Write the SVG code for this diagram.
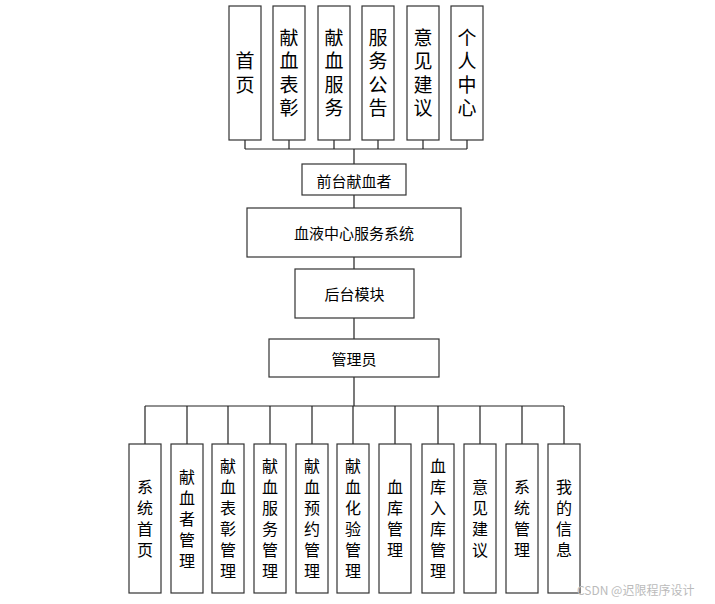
<svg xmlns="http://www.w3.org/2000/svg" width="715" height="604" viewBox="0 0 715 604">
<style>
.box{fill:#fff;stroke:#333;stroke-width:1.2}
.ln{fill:none;stroke:#222;stroke-width:1.2}
.t{font-family:"Noto Sans CJK SC","Microsoft YaHei",sans-serif;fill:#000;text-anchor:middle;dominant-baseline:central}
.v{font-family:"Noto Sans CJK SC","Microsoft YaHei",sans-serif;fill:#000;text-anchor:middle;writing-mode:vertical-rl;glyph-orientation-vertical:0}
.vt{font-size:19px;letter-spacing:4.5px}
.vb{font-size:16px;letter-spacing:5px}
.h{font-size:15px}
.wm{font-family:"Noto Sans CJK SC",sans-serif;font-size:12px;fill:#bbb}
</style>
<rect width="715" height="604" fill="#fff"/>
<g id="connectors">
<path class="ln" d="M245,140V149M289,140V149M334,140V149M378,140V149M423,140V149M467,140V149M245,149H467M354,149V164"/>
<path class="ln" d="M354,195V208M354,257V269M354,318V339M354,377V406"/>
<path class="ln" d="M145,406H564M145,406V444M187,406V444M228,406V444M270,406V444M312,406V444M353,406V444M395,406V444M438,406V444M480,406V444M522,406V444M564,406V444"/>
</g>
<g id="n_shouye"><rect class="box" x="229" y="6" width="32" height="134"/><text class="v vt" x="245" y="75">首页</text></g>
<g id="n_xxbz"><rect class="box" x="273" y="6" width="32" height="134"/><text class="v vt" x="289" y="75">献血表彰</text></g>
<g id="n_xxfw"><rect class="box" x="318" y="6" width="32" height="134"/><text class="v vt" x="334" y="75">献血服务</text></g>
<g id="n_fwgg"><rect class="box" x="362" y="6" width="32" height="134"/><text class="v vt" x="378" y="75">服务公告</text></g>
<g id="n_yjjy"><rect class="box" x="407" y="6" width="32" height="134"/><text class="v vt" x="423" y="75">意见建议</text></g>
<g id="n_grzx"><rect class="box" x="451" y="6" width="32" height="134"/><text class="v vt" x="467" y="75">个人中心</text></g>
<g id="n_qtxxz"><rect class="box" x="302" y="164" width="104" height="31"/><text class="t h" x="354" y="180">前台献血者</text></g>
<g id="n_xtzx"><rect class="box" x="247" y="208" width="214" height="49"/><text class="t h" x="354" y="232.5">血液中心服务系统</text></g>
<g id="n_htmk"><rect class="box" x="295" y="269" width="119" height="49"/><text class="t h" x="354.5" y="293.5">后台模块</text></g>
<g id="n_gly"><rect class="box" x="269" y="339" width="170" height="38"/><text class="t h" x="354" y="358">管理员</text></g>
<g id="b_xtsy"><rect class="box" x="129" y="444" width="32" height="149"/><text class="v vb" x="145" y="521">系统首页</text></g>
<g id="b_xxzgl"><rect class="box" x="171" y="444" width="32" height="149"/><text class="v vb" x="187" y="521">献血者管理</text></g>
<g id="b_xxbzgl"><rect class="box" x="212" y="444" width="32" height="149"/><text class="v vb" x="228" y="521">献血表彰管理</text></g>
<g id="b_xxfwgl"><rect class="box" x="254" y="444" width="32" height="149"/><text class="v vb" x="270" y="521">献血服务管理</text></g>
<g id="b_xxyygl"><rect class="box" x="296" y="444" width="32" height="149"/><text class="v vb" x="312" y="521">献血预约管理</text></g>
<g id="b_xxhygl"><rect class="box" x="337" y="444" width="32" height="149"/><text class="v vb" x="353" y="521">献血化验管理</text></g>
<g id="b_xkgl"><rect class="box" x="379" y="444" width="32" height="149"/><text class="v vb" x="395" y="521">血库管理</text></g>
<g id="b_xkrkgl"><rect class="box" x="422" y="444" width="32" height="149"/><text class="v vb" x="438" y="521">血库入库管理</text></g>
<g id="b_yjjy"><rect class="box" x="464" y="444" width="32" height="149"/><text class="v vb" x="480" y="521">意见建议</text></g>
<g id="b_xtgl"><rect class="box" x="506" y="444" width="32" height="149"/><text class="v vb" x="522" y="521">系统管理</text></g>
<g id="b_wdxx"><rect class="box" x="548" y="444" width="32" height="149"/><text class="v vb" x="564" y="521">我的信息</text></g>
<text class="wm" x="577" y="595">CSDN @迟限程序设计</text>
</svg>
